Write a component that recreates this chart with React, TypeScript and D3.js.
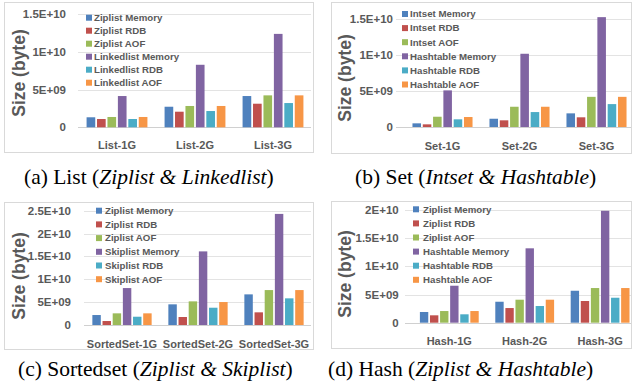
import React from 'react';
import { scaleBand, scaleLinear } from 'd3';

// values in units of 1e9 bytes, one array per series, indexed by category
const listCats = ['List-1G', 'List-2G', 'List-3G'];
const listSeries = ['Ziplist Memory', 'Ziplist RDB', 'Ziplist AOF', 'Linkedlist Memory', 'Linkedlist RDB', 'Linkedlist AOF'];
const listZipMem = [1.33, 2.73, 4.15];
const listZipRdb = [1.1, 2.07, 3.13];
const listZipAof = [1.37, 2.83, 4.24];
const listLinkMem = [4.15, 8.3, 12.4];
const listLinkRdb = [1.1, 2.16, 3.22];
const listLinkAof = [1.37, 2.83, 4.24];

const setCats = ['Set-1G', 'Set-2G', 'Set-3G'];
const setSeries = ['Intset Memory', 'Intset RDB', 'Intset AOF', 'Hashtable Memory', 'Hashtable RDB', 'Hashtable AOF'];
const setIntMem = [0.51, 1.15, 1.9];
const setIntRdb = [0.37, 0.93, 1.35];
const setIntAof = [1.43, 2.82, 4.2];
const setHashMem = [5.1, 10.2, 15.3];
const setHashRdb = [1.07, 2.08, 3.19];
const setHashAof = [1.39, 2.82, 4.2];

const zsetCats = ['SortedSet-1G', 'SortedSet-2G', 'SortedSet-3G'];
const zsetSeries = ['Ziplist Memory', 'Ziplist RDB', 'Ziplist AOF', 'Skiplist Memory', 'Skiplist RDB', 'Skiplist AOF'];
const zsetZipMem = [2.18, 4.52, 6.7];
const zsetZipRdb = [0.87, 1.75, 2.77];
const zsetZipAof = [2.55, 5.17, 7.64];
const zsetSkipMem = [8.08, 16.1, 24.3];
const zsetSkipRdb = [1.81, 3.78, 5.83];
const zsetSkipAof = [2.55, 5.02, 7.64];

const hashCats = ['Hash-1G', 'Hash-2G', 'Hash-3G'];
const hashSeries = ['Ziplist Memory', 'Ziplist RDB', 'Ziplist AOF', 'Hashtable Memory', 'Hashtable RDB', 'Hashtable AOF'];
const hashZipMem = [1.9, 3.72, 5.67];
const hashZipRdb = [1.31, 2.6, 3.85];
const hashZipAof = [2.07, 4.08, 6.15];
const hashHashMem = [6.56, 13.2, 19.86];
const hashHashRdb = [1.49, 2.96, 4.43];
const hashHashAof = [2.07, 4.08, 6.15];

const ticks15 = [0, 5, 10, 15];
const ticks15Labels = ['0', '5E+09', '1E+10', '1.5E+10'];
const ticks20 = [0, 5, 10, 15, 20];
const ticks20Labels = ['0', '5E+09', '1E+10', '1.5E+10', '2E+10'];
const ticks25 = [0, 5, 10, 15, 20, 25];
const ticks25Labels = ['0', '5E+09', '1E+10', '1.5E+10', '2E+10', '2.5E+10'];

const colors = ['#4F81BD', '#C0504D', '#9BBB59', '#8064A2', '#4BACC6', '#F79646'];
const gray = '#595959';
const sans = '"Liberation Sans", Arial, sans-serif';

type Layout = {
  frame: [number, number, number, number];
  xRange: [number, number];
  yRange: [number, number];
  gridX: [number, number];
  tickX: number;
  legend: { sx: number; tx: number; y0: number; dy: number };
  ylabel: [number, number];
  catY: number;
  caption: { x: number; y: number; pre: string; it: string };
};

type Props = {
  cats: string[];
  series: string[];
  values: number[][];
  ticks: number[];
  tickLabels: string[];
  layout: Layout;
};

function Panel({ cats, series, values, ticks, tickLabels, layout }: Props) {
  const L = layout;
  const x0 = scaleBand().domain(cats).range(L.xRange).paddingInner(0.22).paddingOuter(0.11);
  const x1 = scaleBand().domain(series).range([0, x0.bandwidth()]).paddingInner(0.17);
  const y = scaleLinear().domain([0, ticks[ticks.length - 1]]).range(L.yRange);
  const [fx, fy, fw, fh] = L.frame;
  return (
    <g>
      <rect x={fx + 0.5} y={fy + 0.5} width={fw} height={fh} fill="#fff" stroke="#D9D9D9" />
      {ticks.map((t, i) => (
        <g key={t}>
          <line x1={L.gridX[0]} x2={L.gridX[1]} y1={Math.round(y(t)) + 0.5} y2={Math.round(y(t)) + 0.5}
            stroke={t === 0 ? '#D0D0D0' : '#E3E3E3'} />
          <text x={L.tickX} y={y(t)} dy="0.35em" textAnchor="end" fontFamily={sans} fontWeight="bold"
            fontSize={11.5} fill={gray}>{tickLabels[i]}</text>
        </g>
      ))}
      {series.map((s, si) => (
        <g key={s} fill={colors[si]}>
          {cats.map((c, ci) => (
            <rect key={c} x={x0(c)! + x1(s)!} width={x1.bandwidth()} y={y(values[si][ci])}
              height={y(0) - y(values[si][ci])} />
          ))}
        </g>
      ))}
      {cats.map(c => (
        <text key={c} x={x0(c)! + x0.bandwidth() / 2} y={L.catY} dy="0.35em" textAnchor="middle"
          fontFamily={sans} fontWeight="bold" fontSize={11} fill={gray}>{c}</text>
      ))}
      {series.map((s, si) => (
        <g key={s}>
          <rect x={L.legend.sx} y={L.legend.y0 + si * L.legend.dy - 3} width={6} height={6} fill={colors[si]} />
          <text x={L.legend.tx} y={L.legend.y0 + si * L.legend.dy} dy="0.35em" fontFamily={sans}
            fontWeight="bold" fontSize={9.7} fill={gray}>{s}</text>
        </g>
      ))}
      <text transform={`translate(${L.ylabel[0]},${L.ylabel[1]}) rotate(-90)`} textAnchor="middle" dy="0.35em"
        fontFamily={sans} fontWeight="bold" fontSize={17.5} fill={gray}>Size (byte)</text>
      <text x={L.caption.x} y={L.caption.y} fontFamily='"Liberation Serif", "Times New Roman", serif'
        fontSize={21.5} fill="#000">
        {L.caption.pre}(<tspan fontStyle="italic">{L.caption.it}</tspan>)
      </text>
    </g>
  );
}

const layoutA: Layout = {
  frame: [4, 2, 309, 150], xRange: [78, 312], yRange: [127.3, 14.3], gridX: [78, 311], tickX: 66,
  legend: { sx: 86, tx: 94, y0: 17.7, dy: 13 }, ylabel: [19, 73], catY: 145,
  caption: { x: 24, y: 184, pre: '(a) List ', it: 'Ziplist & Linkedlist' },
};
const layoutB: Layout = {
  frame: [331, 2, 300, 151], xRange: [404, 635], yRange: [127, 19.3], gridX: [396, 631], tickX: 393,
  legend: { sx: 402, tx: 410, y0: 14, dy: 14.1 }, ylabel: [345, 78], catY: 146,
  caption: { x: 355, y: 184, pre: '(b) Set ', it: 'Intset & Hashtable' },
};
const layoutC: Layout = {
  frame: [4, 202, 309, 147], xRange: [84, 312], yRange: [325, 210.7], gridX: [84, 311], tickX: 71,
  legend: { sx: 96, tx: 105, y0: 210.7, dy: 13.7 }, ylabel: [19, 276], catY: 344,
  caption: { x: 18, y: 376, pre: '(c) Sortedset ', it: 'Ziplist & Skiplist' },
};
const layoutD: Layout = {
  frame: [331, 201, 300, 147], xRange: [411.6, 637.8], yRange: [322.7, 210], gridX: [405, 631], tickX: 398.7,
  legend: { sx: 413, tx: 423, y0: 209.3, dy: 14.1 }, ylabel: [345, 274], catY: 340.7,
  caption: { x: 328, y: 376, pre: '(d) Hash ', it: 'Ziplist & Hashtable' },
};

export default function App() {
  return (
    <div style={{ position: 'absolute', left: 0, top: 0 }}>
      <svg width={632} height={387} style={{ display: 'block', background: '#fff' }}>
        <Panel cats={listCats} series={listSeries} ticks={ticks15} tickLabels={ticks15Labels} layout={layoutA}
          values={[listZipMem, listZipRdb, listZipAof, listLinkMem, listLinkRdb, listLinkAof]} />
        <Panel cats={setCats} series={setSeries} ticks={ticks15} tickLabels={ticks15Labels} layout={layoutB}
          values={[setIntMem, setIntRdb, setIntAof, setHashMem, setHashRdb, setHashAof]} />
        <Panel cats={zsetCats} series={zsetSeries} ticks={ticks25} tickLabels={ticks25Labels} layout={layoutC}
          values={[zsetZipMem, zsetZipRdb, zsetZipAof, zsetSkipMem, zsetSkipRdb, zsetSkipAof]} />
        <Panel cats={hashCats} series={hashSeries} ticks={ticks20} tickLabels={ticks20Labels} layout={layoutD}
          values={[hashZipMem, hashZipRdb, hashZipAof, hashHashMem, hashHashRdb, hashHashAof]} />
      </svg>
    </div>
  );
}
